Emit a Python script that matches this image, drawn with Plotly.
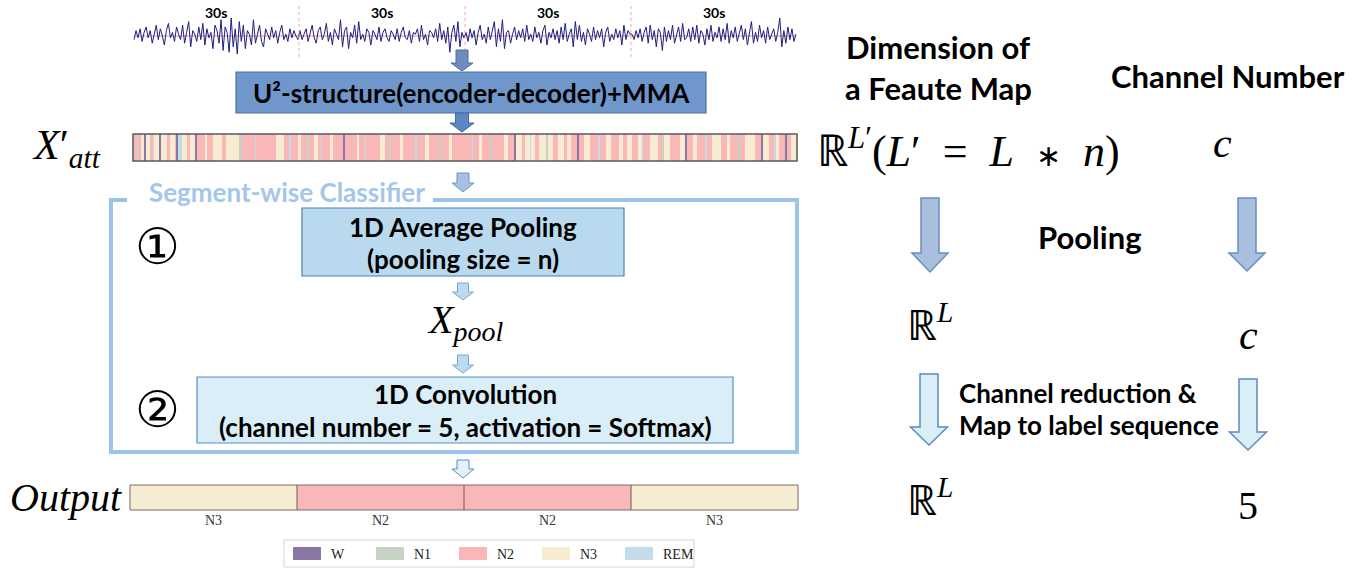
import numpy as np
import plotly.graph_objects as go

W, H = 1364, 569

# ---------------- data ----------------
stage_names = ["W", "N1", "N2", "N3", "REM"]
stage_colors = ["#8b77a4", "#c6d3c4", "#f9b8b7", "#f7ecd1", "#c3dcea"]

eeg_epoch1 = [-2, 3, -1, 4, -3, 2, 5, -1, 3, -4, 1, 6, -2, 4, 0, -5, 3, 7, -1, 2,
              -3, 5, 1, -2, 6, -4, 2, 8, -6, 3, 1, -3, 5, -2, 7, -5, 4, -1, 2, -7,
              6, 3, -4, 9, -8, 5, 2, -9, 10, -6, 4, -10, 8, -3, 6, -7, 3, 1, -5, 9,
              -4, 2, 6, -3, -6, 4, 1, -2, 5, -1, 3, -4, 2, 6, -2, 1, -3, 4, -1, 3, 0, -2]
eeg_epoch2 = [3, -2, 1, 4, -3, 2, 6, -1, -4, 3, 5, -2, 1, 7, -3, 2, -5, 4, 1, -2,
              9, -6, 3, 5, -7, 2, -1, 6, -4, 8, -2, 1, -3, 4, 2, -5, 3, 1, -2, 5,
              -3, 2, 4, -1, -3, 3, 1, -2, 4, -3, 2, 5, -1, -2, 3, -4, 2, 1, 4, -3,
              6, -2, 1, -5, 3, 2, -1, 4, -3, 7, -2, 3, -4, 5, -9, 2, 6, -3, 8, -6, 2, -1]
eeg_epoch3 = [2, -3, 4, -1, 3, -5, 2, 6, -2, 1, -4, 5, -2, 3, 8, -6, 4, -3, 9, -7,
              2, 3, -4, 1, 5, -2, 3, -1, 4, -3, 6, -2, 1, -3, 5, -1, 2, -4, 3, 6,
              -5, 2, -1, 4, -2, 3, -4, 5, -2, 7, -3, 1, 4, -6, 8, -2, 6, -3, 2, -5,
              4, 1, -3, 5, -2, 3, -1, 4, -6, 2, 5, -3, 1, -2, 4, -1, 3, -5, 6, -2, 3, 1]
eeg_epoch4 = [1, -2, 3, -1, 4, -3, 2, 5, -4, 6, -2, 3, -6, 4, 2, -8, 5, -3, 3, -2,
              6, -4, 1, 5, -3, 7, -2, -1, 4, -3, 5, -2, 6, -4, 3, 1, -5, 4, -2, 6,
              -3, 2, -1, 5, -3, 4, -2, 7, -4, 3, -1, 5, -3, 2, 6, -2, 4, -5, 3, 8,
              -4, 2, -3, 6, -1, 3, -4, 5, -2, 1, 4, -3, 2, 10, -6, 3, -4, 5, -2, 4, -3, 1]
epoch_labels = ["30s", "30s", "30s", "30s"]

# attention feature map, run-length encoded (stage, width)
strip_stage = ["N2", "REM", "N2", "N3", "W", "N3", "N2", "REM", "N3", "W", "N3", "N2", "N3", "N2", "W", "REM",
               "N3", "N2", "N3", "W", "N2", "N3", "N2", "N3", "N2", "N3", "N1", "N2", "REM", "N2", "N3", "N2",
               "REM", "N2",
               "N3", "N2", "N1", "N2", "N3", "N2", "REM", "N2", "N3", "N2", "W", "N2", "N3", "N2", "REM", "N2",
               "N3", "N2", "N1", "N2", "N3", "N2", "REM", "N2", "N3", "N2", "N1", "N2", "N3", "N2",
               "N2", "REM", "N2", "N3", "N2", "N1", "N2", "N3", "N2", "W", "N3", "N2", "N3", "REM", "N3", "N2",
               "N3", "N1", "N3", "N2", "N3", "N2", "N3", "N2", "W", "N2", "N3", "N2", "REM", "N2", "N3", "N2",
               "N3", "N2",
               "N3", "N2", "N3", "REM", "N2", "N3", "N2", "N1", "N3", "N2", "N3", "W", "N2", "N3", "N2", "REM",
               "N2", "N3", "N2", "N3", "N2", "N1", "N2", "N3", "N2", "W", "N3", "N2", "REM", "N3", "N2", "W",
               "N2", "N3"]
strip_len = [4, 1, 3, 3, 2, 4, 3, 1, 5, 2, 6, 3, 5, 1, 2, 4,
             5, 3, 5, 2, 8, 2, 6, 9, 4, 13, 3, 13, 1, 20, 8, 5,
             2, 7,
             3, 6, 2, 5, 4, 3, 1, 8, 3, 10, 2, 12, 2, 6, 1, 14,
             5, 4, 2, 9, 3, 12, 2, 8, 4, 10, 2, 8, 3, 10,
             10, 1, 6, 3, 8, 2, 12, 4, 6, 2, 6, 3, 5, 1, 4, 4,
             7, 2, 5, 5, 6, 3, 4, 6, 2, 5, 6, 8, 2, 6, 5, 8,
             4, 4,
             5, 6, 4, 1, 7, 8, 4, 2, 6, 10, 5, 2, 6, 4, 8, 2,
             5, 9, 6, 3, 8, 2, 5, 10, 6, 2, 6, 5, 2, 3, 6, 2,
             4, 6]

output_stages = ["N3", "N2", "N2", "N3"]

# ---------------- helpers ----------------
code = {n: i for i, n in enumerate(stage_names)}
cs = []
for i, c in enumerate(stage_colors):
    cs.append([i / 5, c])
    cs.append([(i + 1) / 5, c])


def dom_x(a, b):
    return [a / W, b / W]


def dom_y(top, bottom):
    return [1 - bottom / H, 1 - top / H]


def down_arrow(cx, y0, y1, sw, hw, hl, fill, line, lw=1.0):
    p = (f"M {cx - sw / 2},{y0} L {cx + sw / 2},{y0} L {cx + sw / 2},{y1 - hl} "
         f"L {cx + hw / 2},{y1 - hl} L {cx},{y1} L {cx - hw / 2},{y1 - hl} "
         f"L {cx - sw / 2},{y1 - hl} Z")
    return dict(type="path", path=p, xref="x", yref="y", fillcolor=fill,
                line=dict(color=line, width=lw))


fig = go.Figure()

# canvas (pixel) axis
fig.add_trace(go.Scatter(x=[0, W], y=[0, H], mode="markers", marker=dict(opacity=0),
                         hoverinfo="skip", showlegend=False, xaxis="x", yaxis="y"))

# EEG waveform
eeg = eeg_epoch1 + eeg_epoch2 + eeg_epoch3 + eeg_epoch4
epochs = [eeg_epoch1, eeg_epoch2, eeg_epoch3, eeg_epoch4]
bounds = np.cumsum([0] + [len(e) for e in epochs])
fig.add_trace(go.Scatter(x=np.arange(len(eeg)), y=eeg, mode="lines",
                         line=dict(color="#1f1f80", width=1),
                         showlegend=False, hoverinfo="skip", xaxis="x2", yaxis="y2"))

# attention strip
strip_codes = np.repeat([code[s] for s in strip_stage], strip_len)
fig.add_trace(go.Heatmap(z=[strip_codes], x0=0, dx=1, colorscale=cs, zmin=-0.5, zmax=4.5,
                         showscale=False, hoverinfo="skip", xaxis="x3", yaxis="y3"))

# output sequence
out_codes = [code[s] for s in output_stages]
fig.add_trace(go.Heatmap(z=[out_codes], x=list(range(len(out_codes))), colorscale=cs,
                         zmin=-0.5, zmax=4.5, showscale=False, hoverinfo="skip",
                         xaxis="x4", yaxis="y4"))

shapes = []
annotations = []

# EEG decorations
shapes.append(dict(type="line", xref="x2", yref="y2", x0=0, x1=len(eeg) - 1, y0=0, y1=0,
                   line=dict(color="#f08a8a", width=1), layer="below"))
for b in bounds[1:-1]:
    shapes.append(dict(type="line", xref="x2", yref="y", x0=b - 0.5, x1=b - 0.5, y0=6, y1=58,
                       line=dict(color="#f4a6a6", width=1, dash="dot")))
for i, lab in enumerate(epoch_labels):
    annotations.append(dict(x=(bounds[i] + bounds[i + 1] - 1) / 2, y=12, xref="x2", yref="y",
                            text=f"<b>{lab}</b>", showarrow=False,
                            font=dict(family="Lato", size=14, color="black")))

# strip border
shapes.append(dict(type="rect", xref="x3 domain", yref="y3 domain", x0=0, x1=1, y0=0, y1=1,
                   line=dict(color="#5a5a5a", width=1.5)))
# output borders / dividers
shapes.append(dict(type="rect", xref="x4 domain", yref="y4 domain", x0=0, x1=1, y0=0, y1=1,
                   line=dict(color="#7a6a6a", width=1)))
for k in range(1, len(out_codes)):
    shapes.append(dict(type="line", xref="x4", yref="y4 domain", x0=k - 0.5, x1=k - 0.5, y0=0, y1=1,
                       line=dict(color="#6a5a5a", width=1)))

# boxes
shapes.append(dict(type="rect", xref="x", yref="y", x0=236, x1=706, y0=72, y1=113,
                   fillcolor="#7097cb", line=dict(color="#4a72a8", width=1.2)))
shapes.append(dict(type="rect", xref="x", yref="y", x0=302, x1=624, y0=208, y1=276,
                   fillcolor="#b9daee", line=dict(color="#4f7fb3", width=1.2)))
shapes.append(dict(type="rect", xref="x", yref="y", x0=197, x1=733, y0=377, y1=443,
                   fillcolor="#daeef8", line=dict(color="#5b8cc0", width=1.2)))
# segment-wise classifier frame
shapes.append(dict(type="path", xref="x", yref="y",
                   path="M 127,200 L 111,200 L 111,452 L 797,452 L 797,200 L 433,200",
                   line=dict(color="#9dc3e6", width=4)))

# arrows (centre column)
shapes.append(down_arrow(462, 50, 71, 12, 22, 8, "#6d8cbd", "#4e6f9f"))
shapes.append(down_arrow(462, 113, 132, 13, 24, 9, "#5d86c2", "#41679f"))
shapes.append(down_arrow(463, 173, 192, 12, 22, 9, "#a9c1e0", "#6f93c3"))
shapes.append(down_arrow(463, 283, 300, 11, 21, 8, "#bcdaf0", "#7ca6d2"))
shapes.append(down_arrow(463, 355, 373, 11, 21, 8, "#bcdaf0", "#7ca6d2"))
shapes.append(down_arrow(463, 460, 478, 12, 22, 9, "#e2f1fa", "#5b8cc0"))
# arrows (right columns)
shapes.append(down_arrow(930, 198, 272, 18, 36, 19, "#a9bfdd", "#6a8fc0", 1.5))
shapes.append(down_arrow(1247, 198, 271, 18, 36, 18, "#a9bfdd", "#6a8fc0", 1.5))
shapes.append(down_arrow(929, 374, 445, 18, 37, 18, "#daeef8", "#5b8cc0", 1.5))
shapes.append(down_arrow(1248, 379, 450, 18, 37, 18, "#daeef8", "#5b8cc0", 1.5))

# legend (manual)
shapes.append(dict(type="rect", xref="x", yref="y", x0=284, x1=694, y0=540, y1=567,
                   fillcolor="white", line=dict(color="#d6d6d6", width=1)))
for i, (n, c) in enumerate(zip(stage_names, stage_colors)):
    sx = 293 + i * 83
    shapes.append(dict(type="rect", xref="x", yref="y", x0=sx, x1=sx + 28, y0=547, y1=560,
                       fillcolor=c, line=dict(width=0)))
    annotations.append(dict(x=sx + 36, y=554, xref="x", yref="y", text=n, showarrow=False,
                            xanchor="left", font=dict(family="Liberation Serif", size=14, color="#222")))


def txt(x, y, t, size, family="Lato", color="black", xanchor="center"):
    annotations.append(dict(x=x, y=y, xref="x", yref="y", text=t, showarrow=False,
                            xanchor=xanchor, yanchor="middle",
                            font=dict(family=family, size=size, color=color)))


SERIF = "Liberation Serif"
SP = "&nbsp;"
AST = "<span style='font-size:30px'>∗</span>"
txt(471, 93, "<b>U²-structure(encoder-decoder)+MMA</b>", 26)
txt(287, 192, "<b>Segment-wise Classifier</b>", 26, color="#a3c7ea")
txt(463, 227, "<b>1D Average Pooling</b>", 26)
txt(463, 259, "<b>(pooling size = n)</b>", 26)
txt(465, 394, "<b>1D Convolution</b>", 26)
txt(465, 427, "<b>(channel number = 5, activation = Softmax)</b>", 26)
txt(157, 247, "①", 50, family="DejaVu Sans")
txt(157, 410, "②", 50, family="DejaVu Sans")

txt(66, 148, "<i>X</i>′<sub><i>att</i></sub>", 42, family=SERIF)
txt(465, 322, "<i>X</i><sub><i>pool</i></sub>", 40, family=SERIF)
txt(66, 497, "<i>Output</i>", 40, family=SERIF)

txt(938, 47, "<b>Dimension of</b>", 31)
txt(938, 88, "<b>a Feaute Map</b>", 31)
txt(1228, 76, "<b>Channel Number</b>", 31)
txt(968, 148, f"ℝ<sup><i>L</i>′</sup>(<i>L</i>′{SP}{SP}={SP}{SP}<i>L</i>{SP}{SP}{AST}{SP}{SP}<i>n</i>)",
    44, family=SERIF)
txt(1222, 143, "<i>c</i>", 42, family=SERIF)
txt(1090, 237, "<b>Pooling</b>", 31)
txt(930, 322, "ℝ<sup><i>L</i></sup>", 42, family=SERIF)
txt(1248, 335, "<i>c</i>", 42, family=SERIF)
txt(957, 393, "<b>Channel reduction &amp;</b>", 26, xanchor="left")
txt(957, 425, "<b>Map to label sequence</b>", 26, xanchor="left")
txt(930, 497, "ℝ<sup><i>L</i></sup>", 42, family=SERIF)
txt(1248, 505, "5", 40, family=SERIF)

hidden = dict(visible=False, fixedrange=True)
fig.update_layout(
    width=W, height=H, margin=dict(l=0, r=0, t=0, b=0),
    paper_bgcolor="white", plot_bgcolor="rgba(0,0,0,0)",
    showlegend=False,
    xaxis=dict(range=[0, W], domain=[0, 1], **hidden),
    yaxis=dict(range=[H, 0], domain=[0, 1], **hidden),
    xaxis2=dict(range=[-0.5, len(eeg) - 0.5], domain=dom_x(133, 797), anchor="y2", **hidden),
    yaxis2=dict(range=[-12.2, 12.2], domain=dom_y(14, 58), anchor="x2", **hidden),
    xaxis3=dict(range=[-0.5, len(strip_codes) - 0.5], domain=dom_x(133, 797), anchor="y3", **hidden),
    yaxis3=dict(range=[-0.5, 0.5], domain=dom_y(134, 161), anchor="x3", **hidden),
    xaxis4=dict(range=[-0.5, len(out_codes) - 0.5], domain=dom_x(130, 798), anchor="y4",
                tickvals=list(range(len(out_codes))), ticktext=output_stages, showticklabels=True,
                ticks="", showgrid=False, zeroline=False, showline=False, fixedrange=True,
                tickfont=dict(family=SERIF, size=14, color="#333")),
    yaxis4=dict(range=[-0.5, 0.5], domain=dom_y(485, 510), anchor="x4", **hidden),
    shapes=shapes, annotations=annotations,
)

fig.write_html("out.html", config={"displayModeBar": False},
               post_script="document.body.style.margin='0px';")
